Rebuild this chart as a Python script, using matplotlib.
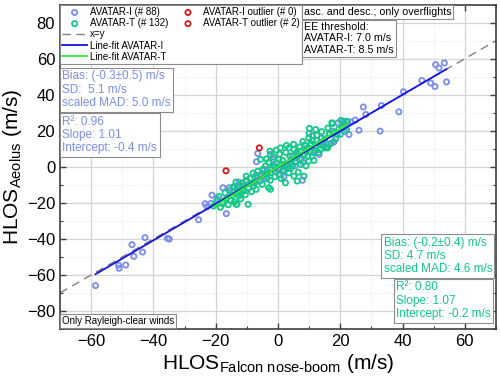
import numpy as np
import matplotlib
matplotlib.use("Agg")
import matplotlib.pyplot as plt
from matplotlib.lines import Line2D
from matplotlib.ticker import MultipleLocator

plt.rcParams['font.family'] = 'Liberation Sans'
plt.rcParams['mathtext.fontset'] = 'custom'
plt.rcParams['mathtext.rm'] = 'Liberation Sans'
plt.rcParams['mathtext.it'] = 'Liberation Sans:italic'

# (Falcon nose-boom, Aeolus) HLOS pairs in m/s
avatar_i_points = [
    (50.6, 56.7), (51.7, 54.8), (53.4, 57.6), (46.2, 47.9), (49.0, 46.5), (50.4, 44.5),
    (54.1, 47.1), (40.3, 41.6), (38.8, 30.5), (33.2, 34.0), (27.4, 33.2), (28.2, 29.0),
    (24.8, 25.9), (26.0, 20.3), (32.8, 19.8), (22.8, 17.9), (22.4, 24.9), (23.4, 24.9),
    (-6.5, 7.4), (-6.9, 2.8), (-4.3, -1.4), (-10.2, -7.4), (7.8, -7.5), (1.9, -5.7),
    (17.5, 19.8), (19.3, 24.4), (21.0, 25.3), (17.7, 13.7), (14.8, 12.4), (13.2, 6.9),
    (8.5, 10.0), (-2.4, 6.9), (-1.4, 4.1), (-4.6, -4.2), (1.4, -2.4), (11.0, 5.9),
    (-13.2, -10.7), (18.0, 13.9), (11.0, 17.4),
    (-58.6, -65.9), (-51.2, -54.6), (-51.0, -56.3), (-48.9, -54.5), (-46.3, -49.7),
    (-46.9, -43.2), (-43.5, -47.3), (-42.7, -39.3), (-35.5, -39.7), (-34.9, -40.1),
    (-25.5, -29.4), (-23.4, -20.5), (-22.8, -22.2), (-21.2, -15.7), (-21.5, -20.3),
    (-19.6, -17.7), (-17.7, -11.6), (-15.7, -11.6), (-16.6, -26.0),
    (-8.0, -9.0), (-3.5, -6.5), (0.5, -1.0), (2.5, 1.5), (4.0, 3.0), (5.5, 0.5),
    (6.5, 7.0), (9.0, 8.5), (10.5, 12.0), (12.5, 14.5), (14.0, 16.0), (15.5, 13.0),
    (16.5, 18.5), (19.0, 18.0), (20.5, 22.0), (-11.5, -12.5), (-9.5, -12.0), (-7.0, -4.5),
    (-5.5, -7.5), (-1.0, 0.5), (3.0, -1.0), (7.0, 4.0), (12.0, 9.0), (-12.5, -8.5),
    (-0.5, -3.0), (4.5, 6.0), (8.0, 2.5), (16.0, 11.0), (21.5, 19.5), (-14.5, -14.0),
]

avatar_t_points = [
    (-14.0, -11.1), (-12.3, -10.5), (-19.6, -19.0), (-17.7, -20.5), (-20.7, -21.8),
    (-15.1, -18.6), (-13.2, -20.8), (-12.6, -16.2), (-12.3, -13.5),
    (10.1, 21.3), (12.1, 20.7), (17.3, 24.4), (22.1, 25.3), (9.9, 16.1), (10.5, 13.0),
    (8.5, 12.0), (2.7, 11.9), (0.8, 10.5), (-2.6, 8.7), (-0.6, 9.3), (5.1, 9.6),
    (7.3, 8.7), (-5.6, 4.1), (-3.7, 4.4), (0.3, 4.1), (3.8, 5.9), (6.2, 5.9), (9.6, 5.9),
    (11.5, 7.8), (13.7, 9.6), (15.9, 10.5), (-1.4, 0.4), (1.9, 1.3), (4.6, 0.4),
    (7.3, 1.3), (9.9, 3.2), (-2.4, -3.3), (0.3, -4.2), (3.5, -3.3), (5.1, -5.2),
    (8.3, -5.2), (-6.7, -6.1), (-10.2, -5.2), (-7.8, -10.7), (-5.1, -9.8), (-3.0, -11.6),
    (-14.3, -11.1), (-11.0, -10.7), (6.2, -7.9), (2.4, -8.9),
    (17.5, 24.0), (20.2, 25.7), (21.2, 24.0), (16.4, 17.9), (15.3, 10.5), (-2.4, -12.5),
    (-9.6, -20.8), (-13.4, -20.8), (-18.0, -19.9),
    (-19.0, -16.5), (-18.5, -22.5), (-17.0, -14.5), (-16.5, -17.5), (-16.0, -21.0),
    (-15.5, -13.0), (-14.8, -16.0), (-14.0, -19.5), (-13.5, -8.5), (-13.0, -14.5),
    (-12.0, -17.8), (-11.5, -9.0), (-11.0, -13.5), (-10.5, -15.5), (-10.0, -8.0),
    (-9.5, -11.5), (-9.0, -6.5), (-8.5, -13.8), (-8.0, -3.5), (-7.5, -8.5), (-7.0, -12.5),
    (-6.5, -2.5), (-6.0, -8.0), (-5.5, -4.5), (-5.0, -1.5), (-4.5, -7.0), (-4.0, 0.5),
    (-3.5, -4.0), (-3.0, 2.5), (-2.5, -7.5), (-2.0, -1.0), (-1.5, 5.5), (-1.0, -5.5),
    (-0.5, 2.0), (0.0, -1.5), (0.5, 7.0), (1.0, -6.5), (1.5, 3.5), (2.0, -2.0),
    (2.5, 8.0), (3.0, 1.0), (3.5, 10.5), (4.0, -1.0), (4.5, 4.0), (5.0, 12.5),
    (5.5, 2.5), (6.0, 8.0), (6.5, -3.0), (7.0, 11.0), (7.5, 4.5), (8.0, 14.0),
    (8.5, 7.0), (9.0, 0.5), (9.5, 10.0), (10.0, 18.5), (10.5, 8.5), (11.0, 14.5),
    (11.5, 3.5), (12.0, 11.5), (12.5, 17.5), (13.0, 8.0), (13.5, 13.5), (14.0, 19.5),
    (14.5, 11.5), (15.0, 15.5), (16.0, 21.5), (17.0, 13.0), (18.0, 19.0), (18.5, 15.5),
    (19.5, 21.0), (20.0, 18.0), (21.0, 22.0), (22.0, 20.5),
]

avatar_t_outliers = [(-16.7, -2.2), (-6.0, 10.5)]

fit_i = (1.01, -0.4)   # slope, intercept
fit_t = (1.07, -0.2)

ai = np.array(avatar_i_points).T
at = np.array(avatar_t_points).T
ao = np.array(avatar_t_outliers).T

C_I = '#7b8cf0'
C_T = '#10c888'
C_OUT = '#d81818'
C_FIT_I = '#1212e6'
C_FIT_T = '#33ee33'
EDGE = '#8c8c8c'

fig = plt.figure(figsize=(5, 3.83), dpi=100)
ax = fig.add_axes([0.12, 0.141, 0.872, 0.847])

ax.set_xlim(-70, 70)
ax.set_ylim(-90, 90)
ax.set_xticks(range(-60, 61, 20))
ax.set_yticks(range(-80, 81, 20))
ax.xaxis.set_minor_locator(MultipleLocator(10))
ax.yaxis.set_minor_locator(MultipleLocator(10))
ax.tick_params(which='both', direction='in', top=True, right=True, labelsize=12, color='#404040')
ax.tick_params(which='major', length=4, width=1)
ax.tick_params(which='minor', length=2, width=0.8)
ax.grid(which='major', color='#d4d4d4', lw=0.9)
ax.grid(which='minor', color='#e4e4e4', lw=0.7, ls=':')
ax.set_axisbelow(True)
for sp in ax.spines.values():
    sp.set_color('#404040')
    sp.set_linewidth(1.2)

ax.set_xlabel(r'HLOS$_{\mathrm{Falcon\ nose\text{-}boom}}$ (m/s)', fontsize=15, labelpad=2)
ax.set_ylabel(r'HLOS$_{\mathrm{Aeolus}}$ (m/s)', fontsize=15, labelpad=2)

xy = np.array([-70, 70])
l_xy, = ax.plot(xy, xy, color='#808080', lw=1.0, ls=(0, (6, 4)), zorder=2)

sc_i = ax.scatter(ai[0], ai[1], s=14, facecolors='none', edgecolors=C_I, linewidths=1.3, zorder=3)
sc_t = ax.scatter(at[0], at[1], s=14, facecolors='none', edgecolors=C_T, linewidths=1.3, zorder=4)
sc_oi = ax.scatter([], [], s=14, facecolors='none', edgecolors=C_OUT, linewidths=1.3)
sc_ot = ax.scatter(ao[0], ao[1], s=14, facecolors='none', edgecolors=C_OUT, linewidths=1.3, zorder=4)

xi = np.array([ai[0].min(), ai[0].max()])
xt = np.array([at[0].min(), at[0].max()])
l_fi, = ax.plot(xi, fit_i[0] * xi + fit_i[1], color=C_FIT_I, lw=1.3, zorder=5)
l_ft, = ax.plot(xt, fit_t[0] * xt + fit_t[1], color=C_FIT_T, lw=1.3, zorder=5)

blank = Line2D([], [], ls='none')
handles = [sc_i, sc_t, l_xy, l_fi, l_ft, sc_oi, sc_ot, blank, blank, blank]
labels = [f'AVATAR-I (# {len(avatar_i_points)})', f'AVATAR-T (# {len(avatar_t_points)})',
          'x=y', 'Line-fit AVATAR-I', 'Line-fit AVATAR-T',
          'AVATAR-I outlier (# 0)', f'AVATAR-T outlier (# {len(avatar_t_outliers)})', '', '', '']
leg = ax.legend(handles, labels, loc='upper left', bbox_to_anchor=(0, 1), ncol=2,
                fontsize=7, fancybox=False, edgecolor=EDGE, framealpha=1,
                borderaxespad=0, borderpad=0.25, labelspacing=0.12, handlelength=2.5,
                handletextpad=0.3, columnspacing=0.8, scatterpoints=1)
leg.get_frame().set_linewidth(0.8)
leg.set_zorder(6)


def box_text(x, y, s, color, fs, va='top'):
    ax.text(x, y, s, transform=ax.transAxes, color=color, fontsize=fs, va=va, ha='left',
            linespacing=1.15, zorder=7,
            bbox=dict(boxstyle='square,pad=0.2', fc='white', ec=EDGE, lw=0.8))


box_text(0.0055, 0.797, 'Bias: (-0.3±0.5) m/s\nSD:  5.1 m/s\nscaled MAD: 5.0 m/s', C_I, 8.5)
box_text(0.0055, 0.658, 'R²: 0.96\nSlope: 1.01\nIntercept: -0.4 m/s', C_I, 8.5)
box_text(0.742, 0.285, 'Bias: (-0.2±0.4) m/s\nSD: 4.7 m/s\nscaled MAD: 4.6 m/s', C_T, 8.5)
box_text(0.7716, 0.1465, 'R²: 0.80\nSlope: 1.07\nIntercept: -0.2 m/s', C_T, 8.5)
box_text(0.559, 0.9926, 'asc. and desc.; only overflights', 'black', 7.7)
box_text(0.56, 0.946, 'EE threshold:\nAVATAR-I: 7.0 m/s\nAVATAR-T: 8.5 m/s', 'black', 7.7)
box_text(0.0046, 0.0093, 'Only Rayleigh-clear winds', 'black', 7, va='bottom')

fig.savefig('out.png', dpi=100)
